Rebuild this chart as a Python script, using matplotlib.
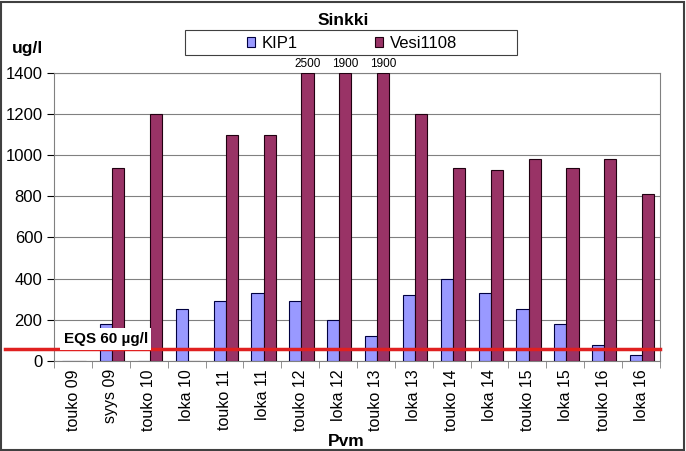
import numpy as np
import matplotlib.pyplot as plt
from matplotlib.patches import Rectangle

categories = ['touko 09', 'syys 09', 'touko 10', 'loka 10', 'touko 11', 'loka 11',
              'touko 12', 'loka 12', 'touko 13', 'loka 13', 'touko 14', 'loka 14',
              'touko 15', 'loka 15', 'touko 16', 'loka 16']
kip1 = [0, 180, 0, 250, 290, 330, 290, 200, 120, 320, 400, 330, 250, 180, 75, 30]
vesi1108 = [0, 940, 1200, 0, 1100, 1100, 2500, 1900, 1900, 1200, 940, 930, 980, 940, 980, 810]
eqs = 55
ymax = 1400

plt.rcParams['font.family'] = ['Liberation Sans', 'DejaVu Sans']

fig = plt.figure(figsize=(6.86, 4.51), dpi=100)
ax = fig.add_axes([0.079, 0.2, 0.883, 0.638])

x = np.arange(len(categories))
w = 0.32
kip_shown = np.array(kip1)
vesi_shown = np.minimum(vesi1108, ymax)
b1 = ax.bar(x - w / 2 + 0.03, kip_shown, w, color='#9999FF', edgecolor='#000040', linewidth=0.8, label='KIP1', zorder=3)
b2 = ax.bar(x + w / 2 + 0.03, vesi_shown, w, color='#993366', edgecolor='#200010', linewidth=0.8, label='Vesi1108', zorder=3)

# values above the clipped bars
for xi, v in zip(x, vesi1108):
    if v > ymax:
        ax.text(xi + w / 2 + 0.03, ymax + 15, str(v), ha='center', va='bottom', fontsize=8.5)

# EQS line runs out past the y axis
ax.plot([-0.081, 1], [eqs, eqs], transform=ax.get_yaxis_transform(), color='#E02020',
        linewidth=2.5, zorder=4, clip_on=False)
ax.text(-0.25, 72, 'EQS 60 \u00b5g/l', fontsize=11, fontweight='bold', va='bottom',
        bbox=dict(facecolor='white', edgecolor='none', pad=2.5), zorder=5)

ax.set_xlim(-0.5, len(categories) - 0.5)
ax.set_ylim(0, ymax)
ax.set_yticks(np.arange(0, ymax + 1, 200))
ax.yaxis.grid(True, color='#808080', linewidth=0.8, zorder=0)
ax.set_xticks(x)
ax.set_xticklabels(categories, rotation=90, fontsize=11.5)
ax.tick_params(axis='x', length=0, pad=6)
ax.tick_params(axis='y', labelsize=12, length=5)
ax.set_xticks(np.arange(-0.5, len(categories), 1), minor=True)
ax.tick_params(axis='x', which='minor', length=5, color='#808080')
for s in ['top', 'right', 'left', 'bottom']:
    ax.spines[s].set_color('#808080')

fig.text(0.5, 0.955, 'Sinkki', ha='center', va='center', fontsize=12.5, fontweight='bold')
fig.text(0.018, 0.893, 'ug/l', ha='left', va='center', fontsize=12.5, fontweight='bold')
fig.text(0.505, 0.022, 'Pvm', ha='center', va='center', fontsize=12.5, fontweight='bold')

# legend box drawn by hand, entries inside
fig.patches.append(Rectangle((0.27, 0.878), 0.484, 0.055, transform=fig.transFigure,
                             fill=True, facecolor='white', edgecolor='#404040', linewidth=0.8))
fig.legend(handles=[b1, b2], loc='center', bbox_to_anchor=(0.513, 0.904),
           ncol=2, frameon=False, fontsize=12, handlelength=0.5, handleheight=0.5,
           handletextpad=0.4, columnspacing=4.6, borderpad=0)

fig.patches.append(Rectangle((0.002, 0.003), 0.995, 0.993, transform=fig.transFigure,
                             fill=False, edgecolor='#404040', linewidth=1.5))

fig.savefig('out.png', dpi=100)
